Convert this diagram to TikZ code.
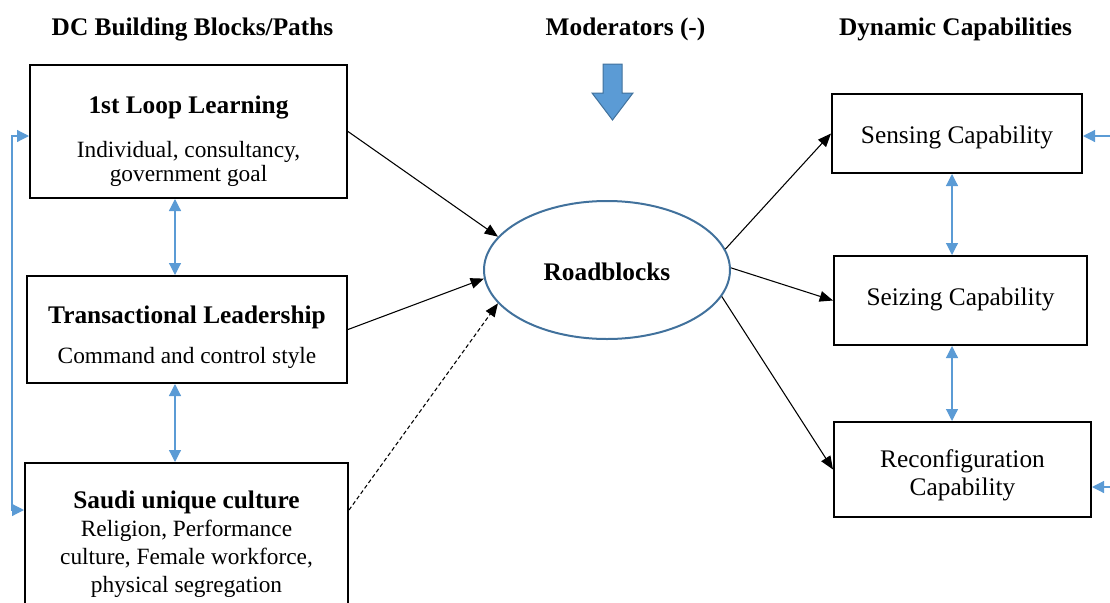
\documentclass[tikz,border=0pt]{standalone}
\usepackage{fontspec}
\setmainfont{Liberation Serif}
\usetikzlibrary{arrows.meta,positioning,shapes.geometric,calc}
\definecolor{dcblue}{HTML}{5B9BD5}
\definecolor{dcbluedark}{HTML}{41719C}
\newcommand{\pxu}{0.75pt}

\begin{document}
\begin{tikzpicture}[x=0.75pt,y=-0.75pt,font=\fontsize{17.5}{18}\selectfont,
  blockbox/.style={draw=black,line width=1.5pt,inner sep=0pt},
  headtxt/.style={font=\bfseries\fontsize{19}{22}\selectfont,anchor=base,inner sep=0pt},
  bodytxt/.style={align=center,anchor=base,inner sep=0pt},
  captxt/.style={font=\fontsize{19}{21}\selectfont,align=center,anchor=base,inner sep=0pt},
  blackarr/.style={draw=black,line width=0.8pt,-{Triangle[length=10pt,width=8pt]}},
  blink/.style={draw=dcblue,line width=0.9pt},
  bluearr/.style={-{Triangle[length=9pt,width=9pt]}},
  bluedbl/.style={{Triangle[length=9pt,width=9pt]}-{Triangle[length=9pt,width=9pt]}}]
\useasboundingbox (0,0) rectangle (1110,603);
\clip (0,0) rectangle (1110,603);

\node[headtxt] (hdleft) at (192.5,35) {DC Building Blocks/Paths};
\node[headtxt] (hdmid) at (625.5,35) {Moderators (-)};
\node[headtxt] (hdright) at (955.5,35) {Dynamic Capabilities};

\draw[draw=dcbluedark,fill=dcblue,line width=0.75pt] (603,64) -- (622,64) -- (622,93) -- (633,93) -- (612.5,120) -- (592,93) -- (603,93) -- cycle;

% building blocks
\node[blockbox,minimum width=317*\pxu,minimum height=133*\pxu] (loop1) at (188.5,131.5) {};
\node[headtxt] (loop1t) at (188.5,113) {1st Loop Learning};
\node[bodytxt] (loop1b) at (188.5,181) {Individual, consultancy,\\government goal};

\node[blockbox,minimum width=320*\pxu,minimum height=107*\pxu] (trans) at (187,329.5) {};
\node[headtxt] (transt) at (187,323) {Transactional Leadership};
\node[bodytxt] (transb) at (187,363) {Command and control style};

\node[blockbox,minimum width=323*\pxu,minimum height=187*\pxu] (cult) at (186.5,556.5) {};
\node[headtxt] (cultt) at (186.5,508) {Saudi unique culture};
\node[bodytxt,font=\fontsize{17.5}{21}\selectfont] (cultb) at (186.5,592) {Religion, Performance\\culture, Female workforce,\\physical segregation};

\node[ellipse,draw=dcbluedark,line width=1.5pt,minimum width=246*\pxu,minimum height=138*\pxu,inner sep=0pt] (rb) at (607,270) {};
\node[headtxt] (rbt) at (607,280) {Roadblocks};

% capabilities
\node[blockbox,minimum width=250*\pxu,minimum height=79*\pxu] (sens) at (957,133.5) {};
\node[captxt] (senst) at (957,143) {Sensing Capability};
\node[blockbox,minimum width=253*\pxu,minimum height=89*\pxu] (seiz) at (960.5,300.5) {};
\node[captxt] (seizt) at (960.5,305) {Seizing Capability};
\node[blockbox,minimum width=257*\pxu,minimum height=95*\pxu] (reconf) at (962.5,469.5) {};
\node[captxt] (reconft) at (962.5,495) {Reconfiguration\\Capability};

\coordinate (lx) at (175,0);
\coordinate (rx) at (952,0);
\coordinate (loopa) at (12,136);
\coordinate (loopb) at (12,510);
\coordinate (ina) at (1112,136);
\coordinate (inb) at (1112,487);

\draw[blink,bluedbl] (loop1.south -| lx) -- (trans.north -| lx);
\draw[blink,bluedbl] (trans.south -| lx) -- (cult.north -| lx);
\draw[blink,bluedbl] (loop1.west |- loopa) -- (loopa) -- (loopb) -- (cult.west |- loopb);
\draw[blink,bluearr] (ina) -- (sens.east |- ina);
\draw[blink,bluearr] (inb) -- (reconf.east |- inb);
\draw[blink,bluedbl] (sens.south -| rx) -- (seiz.north -| rx);
\draw[blink,bluedbl] (seiz.south -| rx) -- (reconf.north -| rx);

\draw[blackarr] (loop1.east) -- (rb.163);
\draw[blackarr] (trans.east) -- (rb.184);
\draw[blackarr,dash pattern=on 3pt off 2pt] (cult.east |- loopb) -- (rb.197);
\draw[blackarr] (rb.10) -- (sens.west);
\draw[blackarr] (rb.1) -- (seiz.west);
\draw[blackarr] (rb.347) -- (reconf.west);
\end{tikzpicture}
\end{document}
